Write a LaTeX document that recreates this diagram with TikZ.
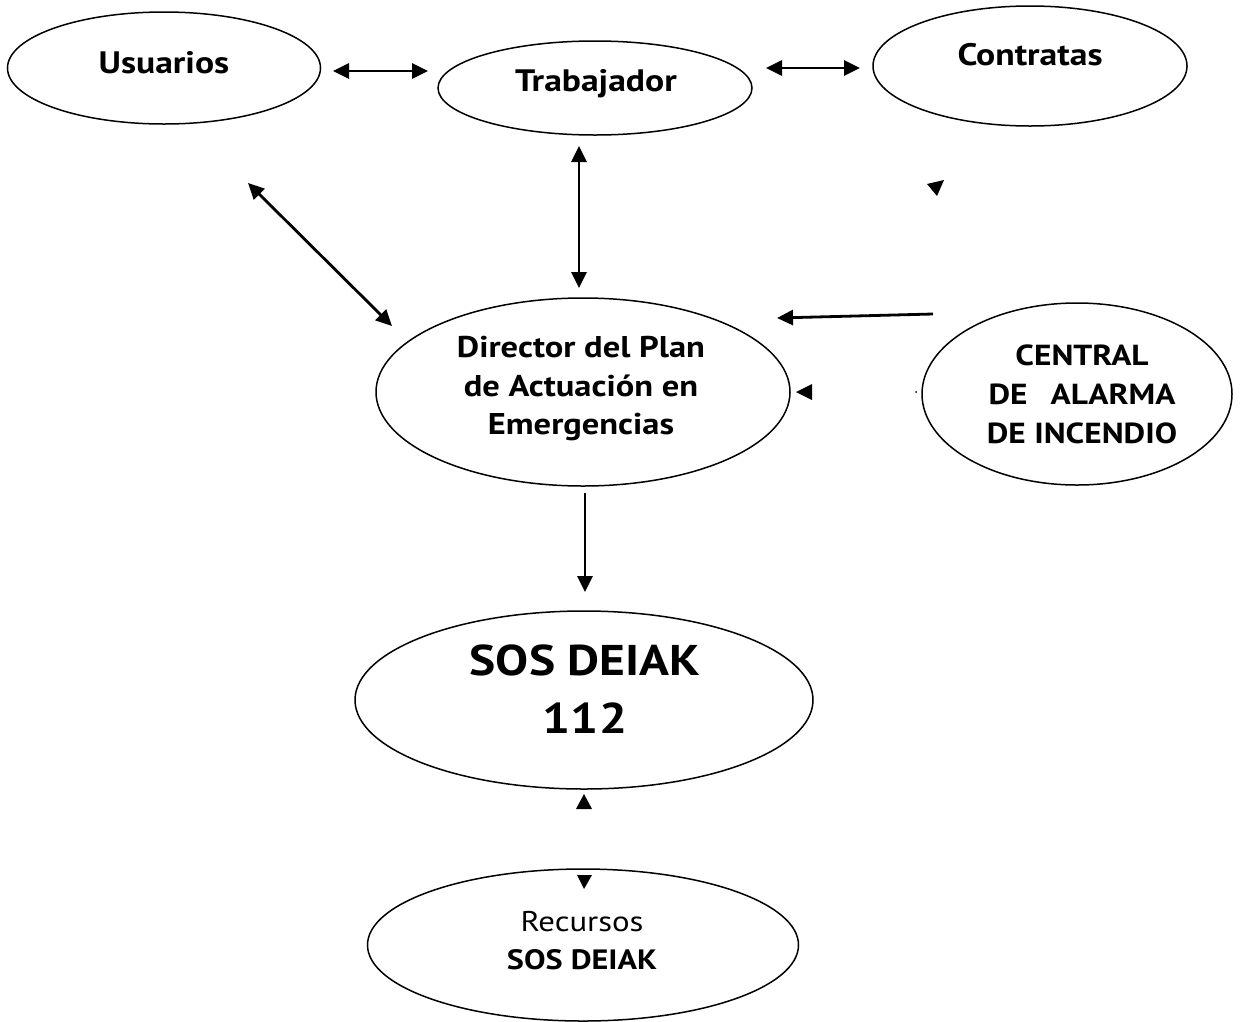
\documentclass[tikz,border=0pt]{standalone}
\usepackage{fontspec}
\setmainfont{PT Sans}[FakeStretch=1.15]
\usetikzlibrary{shapes.geometric,arrows.meta}
\begin{document}
\begin{tikzpicture}[x=1pt,y=-1pt,
  ell/.style={draw, ellipse, line width=1.5pt, inner sep=0pt},
  lbl/.style={font=\bfseries\fontsize{31}{38}\selectfont, align=center, inner sep=0pt},
  tipA/.tip={Triangle[length=16pt,width=15pt]},
  conn/.style={line width=2.8pt, -tipA},
  bconn/.style={line width=2.8pt, tipA-tipA},
  headfill/.style={fill=black}]
\useasboundingbox (0,0) rectangle (1241,1021);

% ellipses
\node[ell, minimum width=313pt, minimum height=112pt] (usu) at (164,68) {};
\node[ell, minimum width=314pt, minimum height=94pt] (trab) at (595,88) {};
\node[ell, minimum width=314pt, minimum height=120pt] (contr) at (1030,66) {};
\node[ell, minimum width=414pt, minimum height=188pt] (dir) at (583,392) {};
\node[ell, minimum width=310pt, minimum height=182pt] (central) at (1077,394) {};
\node[ell, minimum width=458pt, minimum height=178pt] (sos) at (584,700) {};
\node[ell, minimum width=431pt, minimum height=152pt] (rec) at (583,945) {};

% labels
\node[lbl] (tusu) at (164,63) {Usuarios};
\node[lbl] (ttrab) at (596,84) {Trabajador};
\node[lbl] (tcontr) at (1030,55) {Contratas};
\node[lbl, font=\bfseries\fontsize{30}{38.5}\selectfont] (tdir) at (581,389) {Director del Plan\\de Actuación en\\Emergencias};
\node[lbl, font=\bfseries\fontsize{29}{39}\selectfont] (tcentral) at (1082,394) {CENTRAL\\DE\hspace{0.8em}ALARMA\\DE INCENDIO};
\node[lbl, font=\bfseries\fontsize{43}{58}\selectfont] (tsos) at (585,689) {SOS DEIAK\\112};
\node[lbl, font=\fontsize{28.5}{38}\selectfont] (trec) at (582,941) {Recursos\\{\bfseries\fontsize{28}{38}\selectfont SOS DEIAK}};

% connector end points
\coordinate (a1) at (333,71);
\coordinate (a2) at (428,71);
\coordinate (b1) at (766,68);
\coordinate (b2) at (860,68);
\coordinate (c1) at (579,146);
\coordinate (c2) at (579,288);
\coordinate (d1) at (248,183);
\coordinate (d2) at (392,326);
\coordinate (e1) at (933,314);
\coordinate (e2) at (777,318);
\coordinate (f1) at (585,493);
\coordinate (f2) at (585,592);

\draw[bconn] (a1) -- (a2);
\draw[bconn] (b1) -- (b2);
\draw[bconn] (c1) -- (c2);
\draw[bconn] (d1) -- (d2);
\draw[conn] (e1) -- (e2);
\draw[conn] (f1) -- (f2);

% lone arrowheads
\fill[headfill] (927,184) -- (944,180) -- (937,196) -- cycle;
\fill[headfill] (796,392) -- (812,384) -- (812,400) -- cycle;
\fill[headfill] (584,794) -- (576,809) -- (592,809) -- cycle;
\fill[headfill] (584,889) -- (577,875) -- (592,875) -- cycle;
\fill[headfill] (916,392) circle (1pt);
\end{tikzpicture}
\end{document}
